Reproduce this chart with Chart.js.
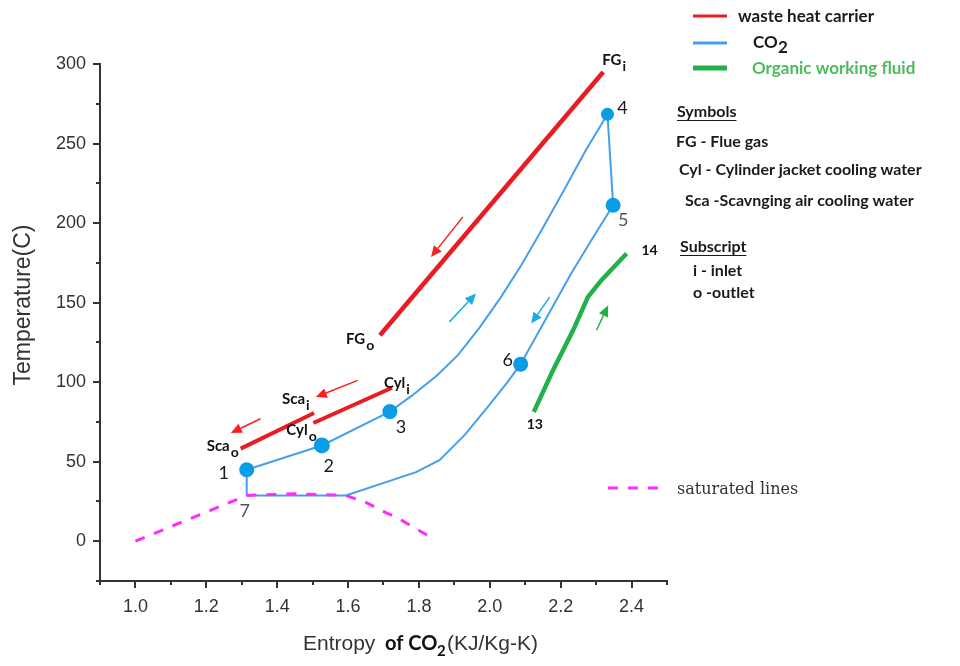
<!DOCTYPE html>
<html>
<head>
<meta charset="utf-8">
<script src="https://cdn.jsdelivr.net/npm/chart.js@4.4.0/dist/chart.umd.min.js"></script>
<style>
  html, body { margin: 0; padding: 0; background: #fff; }
  #wrap { width: 960px; height: 666px; }
</style>
</head>
<body>
<div id="wrap"><canvas id="chart" width="960" height="666"></canvas></div>
<script>
// entropy s (kJ/kg-K) vs temperature T (C)

// waste heat carriers
const flueGasS = [1.69, 2.32];
const flueGasT = [129.5, 295];
const scavS = [1.297, 1.504];
const scavT = [58.2, 80.6];
const cylS = [1.502, 1.724];
const cylT = [74.3, 96.5];

// CO2 cycle path 7-1-2-3-4-5-6-7
const co2S = [1.314, 1.314, 1.526, 1.718, 1.78, 1.85, 1.91, 1.97, 2.03, 2.09, 2.15, 2.21, 2.27, 2.332,
              2.348, 2.29, 2.23, 2.16, 2.087, 2.05, 2.0, 1.93, 1.858, 1.792, 1.594, 1.314];
const co2T = [28.8, 44.9, 60.2, 81.5, 91.5, 104, 117, 134, 153, 174, 197, 221, 245.5, 268.4,
              211.2, 190.5, 168.5, 140.5, 111.3, 100, 86, 67, 51, 43.4, 28.8, 28.8];

// state points
const stateNames = ['1', '2', '3', '4', '5', '6', '7'];
const stateS = [1.314, 1.526, 1.718, 2.332, 2.348, 2.087, 1.314];
const stateT = [44.9, 60.2, 81.5, 268.4, 211.2, 111.3, 28.8];

// organic working fluid 13 -> 14
const orcS = [2.124, 2.178, 2.235, 2.277, 2.315, 2.386];
const orcT = [81.2, 107.4, 132.6, 153.6, 164.1, 180.9];

// saturation dome
const satS = [1.0, 1.314, 1.45, 1.594, 1.649, 1.705, 1.744, 1.825];
const satT = [0, 28.8, 29.8, 28.8, 24.5, 18.2, 14.1, 3.6];

// flow direction arrows: [tail s, tail T, head s, head T]
const wasteArrows = [[1.924, 203.9, 1.834, 178.7], [1.627, 101.1, 1.509, 90.6], [1.353, 77, 1.269, 68]];
const co2Arrows = [[1.886, 137.9, 1.961, 155.7], [2.169, 153.6, 2.117, 136.8]];
const orcArrows = [[2.301, 132.6, 2.334, 148.3]];

const RED = '#e91c24', BLUE = '#44a0ee', DOT = '#0a9de6', GREEN = '#22b04b', PINK = '#ff2bff';
const pts = (xs, ys) => xs.map((x, i) => ({ x, y: ys[i] }));

function text(ctx, s, x, y, font, color, align, maxW) {
  ctx.font = font;
  ctx.fillStyle = color;
  ctx.textAlign = align || 'left';
  ctx.textBaseline = 'alphabetic';
  if (maxW) ctx.fillText(s, x, y, maxW); else ctx.fillText(s, x, y);
  const w = ctx.measureText(s).width;
  return maxW ? Math.min(w, maxW) : w;
}

function subText(ctx, main, sub, x, y) {
  const w = text(ctx, main, x, y, 'bold 15px Lato', '#111');
  text(ctx, sub, x + w + 1, y + 6, 'bold 14px Lato', '#111');
}

function arrow(ctx, x0, y0, x1, y1, color) {
  const a = Math.atan2(y1 - y0, x1 - x0), L = 11, W = 5;
  ctx.strokeStyle = color;
  ctx.fillStyle = color;
  ctx.lineWidth = 1.5;
  ctx.beginPath();
  ctx.moveTo(x0, y0);
  ctx.lineTo(x1 - L * Math.cos(a), y1 - L * Math.sin(a));
  ctx.stroke();
  ctx.beginPath();
  ctx.moveTo(x1, y1);
  ctx.lineTo(x1 - L * Math.cos(a) + W * Math.sin(a), y1 - L * Math.sin(a) - W * Math.cos(a));
  ctx.lineTo(x1 - L * Math.cos(a) - W * Math.sin(a), y1 - L * Math.sin(a) + W * Math.cos(a));
  ctx.closePath();
  ctx.fill();
}

const annotations = {
  id: 'annotations',
  afterDraw(chart) {
    const { ctx, scales: { x, y } } = chart;
    const px = s => x.getPixelForValue(s), py = t => y.getPixelForValue(t);
    ctx.save();

    // major / minor tick marks
    ctx.strokeStyle = '#333';
    ctx.lineWidth = 2;
    const bottom = chart.chartArea.bottom, left = chart.chartArea.left;
    x.ticks.forEach(t => {
      const len = t.label !== '' ? 7 : 4, p = Math.round(px(t.value));
      ctx.beginPath(); ctx.moveTo(p, bottom); ctx.lineTo(p, bottom + len); ctx.stroke();
    });
    y.ticks.forEach(t => {
      const len = t.label !== '' ? 7 : 4, p = Math.round(py(t.value));
      ctx.beginPath(); ctx.moveTo(left, p); ctx.lineTo(left - len, p); ctx.stroke();
    });

    // arrows
    wasteArrows.forEach(a => arrow(ctx, px(a[0]), py(a[1]), px(a[2]), py(a[3]), '#ff1f1f'));
    co2Arrows.forEach(a => arrow(ctx, px(a[0]), py(a[1]), px(a[2]), py(a[3]), '#18ace6'));
    orcArrows.forEach(a => arrow(ctx, px(a[0]), py(a[1]), px(a[2]), py(a[3]), GREEN));

    // state numbers
    const offs = { '1': [-23, 9], '2': [7, 27], '3': [11, 21], '4': [15, 0], '5': [10, 21], '6': [-13, 2], '7': [-2, 22] };
    stateNames.forEach((n, i) => {
      const c = (n === '5' || n === '7') ? '#555' : '#1a1a1a';
      text(ctx, n, px(stateS[i]) + offs[n][0], py(stateT[i]) + offs[n][1], '18px Lato', c, 'center');
    });
    const last = orcS.length - 1;
    text(ctx, '13', px(orcS[0]) + 1, py(orcT[0]) + 17, 'bold 14px Lato', '#111', 'center');
    text(ctx, '14', px(orcS[last]) + 23, py(orcT[last]) + 2, 'bold 14px Lato', '#111', 'center');

    // inlet / outlet labels of the heat carriers
    subText(ctx, 'FG', 'i', px(flueGasS[1]) - 1, py(flueGasT[1]) - 7);
    subText(ctx, 'FG', 'o', px(flueGasS[0]) - 34, py(flueGasT[0]) + 9);
    subText(ctx, 'Sca', 'o', px(scavS[0]) - 34, py(scavT[0]) + 2);
    subText(ctx, 'Sca', 'i', px(scavS[1]) - 32, py(scavT[1]) - 9);
    subText(ctx, 'Cyl', 'o', px(cylS[0]) - 27, py(cylT[0]) + 12);
    subText(ctx, 'Cyl', 'i', px(cylS[1]) - 8, py(cylT[1]));

    // key at the top right
    ctx.lineCap = 'butt';
    [[RED, 16, 3], [BLUE, 43, 3], [GREEN, 68, 5]].forEach(([c, yy, w]) => {
      ctx.strokeStyle = c; ctx.lineWidth = w;
      ctx.beginPath(); ctx.moveTo(693, yy); ctx.lineTo(727, yy); ctx.stroke();
    });
    text(ctx, 'waste heat carrier', 738, 22, 'bold 17px Lato', '#1a1a1a', 'left', 150);
    text(ctx, 'CO', 753, 48, 'bold 17px Lato', '#1a1a1a');
    text(ctx, '2', 778, 53, 'bold 17px Lato', '#1a1a1a');
    text(ctx, 'Organic working fluid', 752, 74, 'bold 17px Lato', '#4cbb5a', 'left', 170);

    const uw = text(ctx, 'Symbols', 677, 117, 'bold 16px Lato', '#1a1a1a', 'left', 67);
    ctx.strokeStyle = '#1a1a1a'; ctx.lineWidth = 1;
    ctx.beginPath(); ctx.moveTo(677, 120.5); ctx.lineTo(677 + uw, 120.5); ctx.stroke();
    text(ctx, 'FG - Flue gas', 676, 147, 'bold 16px Lato', '#1a1a1a', 'left', 100);
    text(ctx, 'Cyl - Cylinder jacket cooling water', 679, 175, 'bold 16px Lato', '#1a1a1a', 'left', 272);
    text(ctx, 'Sca -Scavnging air cooling water', 685, 206, 'bold 16px Lato', '#1a1a1a', 'left', 254);
    const sw = text(ctx, 'Subscript', 680, 252, 'bold 16px Lato', '#1a1a1a', 'left', 75);
    ctx.beginPath(); ctx.moveTo(680, 255.5); ctx.lineTo(680 + sw, 255.5); ctx.stroke();
    text(ctx, 'i - inlet', 693, 276, 'bold 16px Lato', '#1a1a1a', 'left', 57);
    text(ctx, 'o -outlet', 693, 298, 'bold 16px Lato', '#1a1a1a', 'left', 71);

    ctx.strokeStyle = PINK; ctx.lineWidth = 3; ctx.setLineDash([10, 10]);
    ctx.beginPath(); ctx.moveTo(608, 488); ctx.lineTo(660, 488); ctx.stroke();
    ctx.setLineDash([]);
    text(ctx, 'saturated lines', 677, 494, '16px "DejaVu Serif"', '#333', 'left', 125);

    // axis titles
    text(ctx, 'Entropy', 303, 650, '21px "Liberation Sans"', '#333');
    text(ctx, 'of CO', 385, 650, 'bold 20px Lato', '#111');
    text(ctx, '2', 437, 656, 'bold 15px Lato', '#111');
    text(ctx, '(KJ/Kg-K)', 447, 650, '21px "Liberation Sans"', '#333');

    ctx.save();
    ctx.translate(30, 305);
    ctx.rotate(-Math.PI / 2);
    text(ctx, 'Temperature(C)', 0, 0, '23px "Liberation Sans"', '#333', 'center');
    ctx.restore();

    ctx.restore();
  }
};

const tickFont = { family: '"Liberation Sans", Arial', size: 18 };

new Chart(document.getElementById('chart'), {
  type: 'scatter',
  data: {
    datasets: [
      { data: pts(satS, satT), showLine: true, borderColor: PINK, borderWidth: 3, borderDash: [10, 10],
        pointRadius: 0, order: 0 },
      { data: pts(stateS.slice(0, 6), stateT.slice(0, 6)), showLine: false, pointRadius: [7.5, 8, 7.5, 6.5, 7.5, 7.5],
        pointBackgroundColor: DOT, pointBorderWidth: 0, order: 1 },
      { data: pts(co2S, co2T), showLine: true, borderColor: BLUE, borderWidth: 2, pointRadius: 0, order: 2 },
      { data: pts(orcS, orcT), showLine: true, borderColor: GREEN, borderWidth: 4.5, pointRadius: 0, order: 3 },
      { data: pts(flueGasS, flueGasT), showLine: true, borderColor: RED, borderWidth: 4.5, pointRadius: 0, order: 3 },
      { data: pts(scavS, scavT), showLine: true, borderColor: RED, borderWidth: 4, pointRadius: 0, order: 3 },
      { data: pts(cylS, cylT), showLine: true, borderColor: RED, borderWidth: 4, pointRadius: 0, order: 3 }
    ]
  },
  options: {
    responsive: false,
    animation: false,
    events: [],
    layout: { padding: { left: 0, top: 64, right: 293, bottom: 0 } },
    plugins: { legend: { display: false }, tooltip: { enabled: false } },
    scales: {
      x: {
        type: 'linear', min: 0.9, max: 2.5,
        afterFit: s => { s.height = 85; },
        grid: { display: false, drawTicks: false },
        border: { display: true, color: '#333', width: 2 },
        ticks: {
          stepSize: 0.1, autoSkip: false, maxRotation: 0, padding: 15, color: '#333', font: tickFont,
          callback: v => {
            const k = Math.round(v * 10);
            return (k % 2 === 0 && k >= 10 && k <= 24) ? (k / 10).toFixed(1) : '';
          }
        }
      },
      y: {
        type: 'linear', min: -25, max: 300,
        afterFit: s => { s.width = 100; },
        grid: { display: false, drawTicks: false },
        border: { display: true, color: '#333', width: 2 },
        ticks: {
          stepSize: 25, autoSkip: false, padding: 14, color: '#333', font: tickFont,
          callback: v => (v >= 0 && v % 50 === 0) ? String(v) : ''
        }
      }
    }
  },
  plugins: [annotations]
});
</script>
</body>
</html>
